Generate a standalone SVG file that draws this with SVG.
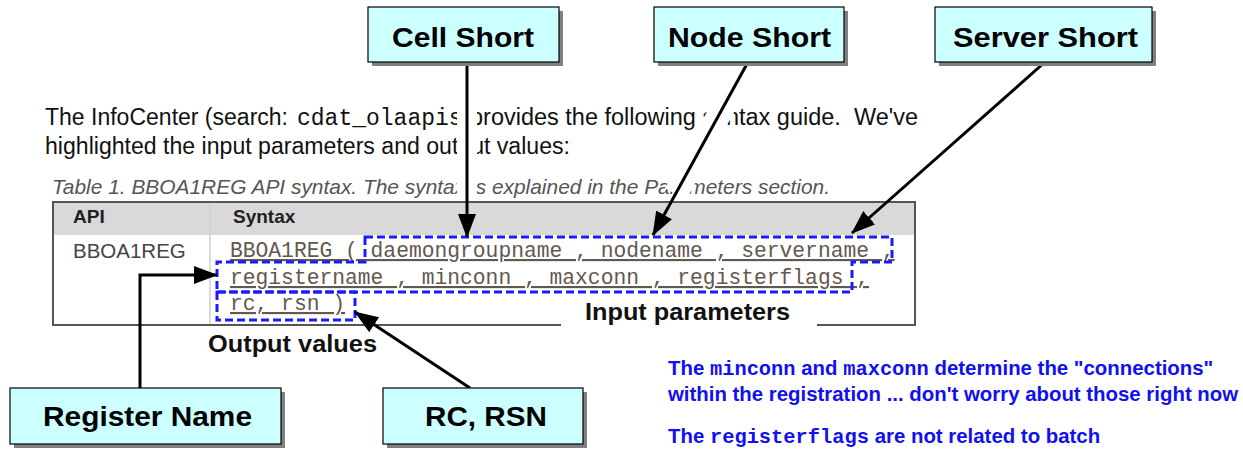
<svg xmlns="http://www.w3.org/2000/svg" width="1243" height="449" viewBox="0 0 1243 449">
<style>
.para{font-family:"Liberation Sans",Arial,sans-serif;font-size:23px;fill:#111;}
.mono{font-family:"Liberation Mono","Courier New",monospace;}
.cap{font-family:"Liberation Sans",Arial,sans-serif;font-size:21px;font-style:italic;fill:#555;}
.th{font-family:"Liberation Sans",Arial,sans-serif;font-size:19px;font-weight:bold;fill:#222;}
.td{font-family:"Liberation Sans",Arial,sans-serif;font-size:20.5px;fill:#444;}
.code{font-family:"Liberation Mono","Courier New",monospace;font-size:21.3px;fill:#625850;text-decoration:underline;white-space:pre;}
.lbl{font-family:"Liberation Sans",Arial,sans-serif;font-size:23px;font-weight:bold;fill:#111;}
.note{font-family:"Liberation Sans",Arial,sans-serif;font-size:20.4px;font-weight:bold;fill:#1010f0;}
.nmono{font-family:"Liberation Mono","Courier New",monospace;font-weight:bold;}
.hl{fill:none;stroke:#1a1aff;stroke-width:3;stroke-dasharray:8 4;}
.box{fill:#ccffff;stroke:#000;stroke-width:1.2;}
.shadow{fill:#808080;}
.btxt{font-family:"Liberation Sans",Arial,sans-serif;font-size:28px;font-weight:bold;fill:#000;}
.halo{stroke:#fff;fill:none;}
.conn{stroke:#000;stroke-width:3;fill:none;}
</style>
<defs>
<marker id="ah" viewBox="0 0 24 18" refX="23" refY="9" markerWidth="24" markerHeight="18" markerUnits="userSpaceOnUse" orient="auto">
<path d="M0,0 L24,9 L0,18 z" fill="#000"/>
</marker>
</defs>
<rect width="1243" height="449" fill="#fff"/>

<!-- screenshot text -->
<text class="para" x="45" y="125" textLength="243" lengthAdjust="spacingAndGlyphs">The InfoCenter (search:</text>
<text class="para mono" x="297" y="125">cdat_olaapis)</text>
<text class="para" x="470" y="125" textLength="448" lengthAdjust="spacingAndGlyphs" xml:space="preserve">provides the following syntax guide.  We've</text>
<text class="para" x="45" y="154" textLength="525" lengthAdjust="spacingAndGlyphs">highlighted the input parameters and output values:</text>
<text class="cap" x="52" y="194" textLength="778" lengthAdjust="spacingAndGlyphs">Table 1. BBOA1REG API syntax. The syntax is explained in the Parameters section.</text>

<!-- table -->
<rect x="53" y="202" width="862" height="123" fill="#fff"/>
<rect x="53" y="202" width="862" height="33" fill="#d9d9d9"/>
<line x1="210" y1="203" x2="210" y2="324" stroke="#cfcfcf" stroke-width="1.5"/>
<rect x="53" y="202" width="862" height="123" fill="none" stroke="#555" stroke-width="2"/>
<text class="th" x="73" y="223">API</text>
<text class="th" x="233" y="223">Syntax</text>
<text class="td" x="73" y="258">BBOA1REG</text>
<text class="code" x="230" y="257">BBOA1REG ( daemongroupname , nodename , servername ,</text>
<text class="code" x="230" y="284">registername , minconn , maxconn , registerflags ,</text>
<text class="code" x="230" y="310">rc, rsn )</text>

<!-- highlight boxes -->
<polygon class="hl" points="365,237 892,237 892,262 852,262 852,292 217,292 217,262 365,262"/>
<rect class="hl" x="217" y="292" width="138" height="28"/>

<!-- annotation labels -->
<rect x="561" y="300" width="256" height="32" fill="#fff"/>
<text class="lbl" x="585" y="320" textLength="205" lengthAdjust="spacingAndGlyphs">Input parameters</text>
<text class="lbl" x="208" y="352" textLength="169" lengthAdjust="spacingAndGlyphs">Output values</text>

<!-- notes -->
<text class="note" x="668" y="375">The <tspan class="nmono">minconn</tspan> and <tspan class="nmono">maxconn</tspan> determine the "connections"</text>
<text class="note" x="668" y="401">within the registration ... don't worry about those right now</text>
<text class="note" x="668" y="443">The <tspan class="nmono">registerflags</tspan> are not related to batch</text>

<!-- connectors -->
<g id="connectors">
<line class="halo" x1="467" y1="100" x2="467" y2="198" stroke-width="20"/>
<line class="halo" x1="727.1" y1="100" x2="675.5" y2="194" stroke-width="24"/>
<line class="conn" x1="467" y1="62" x2="467" y2="237" marker-end="url(#ah)"/>
<line class="conn" x1="748" y1="62" x2="653" y2="235" marker-end="url(#ah)"/>
<line class="conn" x1="1045" y1="62" x2="852" y2="233" marker-end="url(#ah)"/>
<polyline class="conn" points="140,388 140,275 217,275" marker-end="url(#ah)"/>
<line class="conn" x1="470" y1="388" x2="355" y2="312" marker-end="url(#ah)"/>
</g>

<!-- nodes -->
<g id="cell-short">
<rect class="shadow" x="372" y="11" width="191" height="55"/>
<rect class="box" x="368" y="7" width="191" height="55"/>
<text class="btxt" x="392" y="47" textLength="142" lengthAdjust="spacingAndGlyphs">Cell Short</text>
</g>
<g id="node-short">
<rect class="shadow" x="658" y="11" width="190" height="55"/>
<rect class="box" x="654" y="7" width="190" height="55"/>
<text class="btxt" x="668" y="47" textLength="163" lengthAdjust="spacingAndGlyphs">Node Short</text>
</g>
<g id="server-short">
<rect class="shadow" x="939" y="11" width="217" height="55"/>
<rect class="box" x="935" y="7" width="217" height="55"/>
<text class="btxt" x="953" y="47" textLength="185" lengthAdjust="spacingAndGlyphs">Server Short</text>
</g>
<g id="register-name">
<rect class="shadow" x="14" y="392" width="271" height="56"/>
<rect class="box" x="10" y="388" width="271" height="56"/>
<text class="btxt" x="43" y="426" textLength="209" lengthAdjust="spacingAndGlyphs">Register Name</text>
</g>
<g id="rc-rsn">
<rect class="shadow" x="387" y="392" width="200" height="56"/>
<rect class="box" x="383" y="388" width="200" height="56"/>
<text class="btxt" x="425" y="426" textLength="122" lengthAdjust="spacingAndGlyphs">RC, RSN</text>
</g>
</svg>
